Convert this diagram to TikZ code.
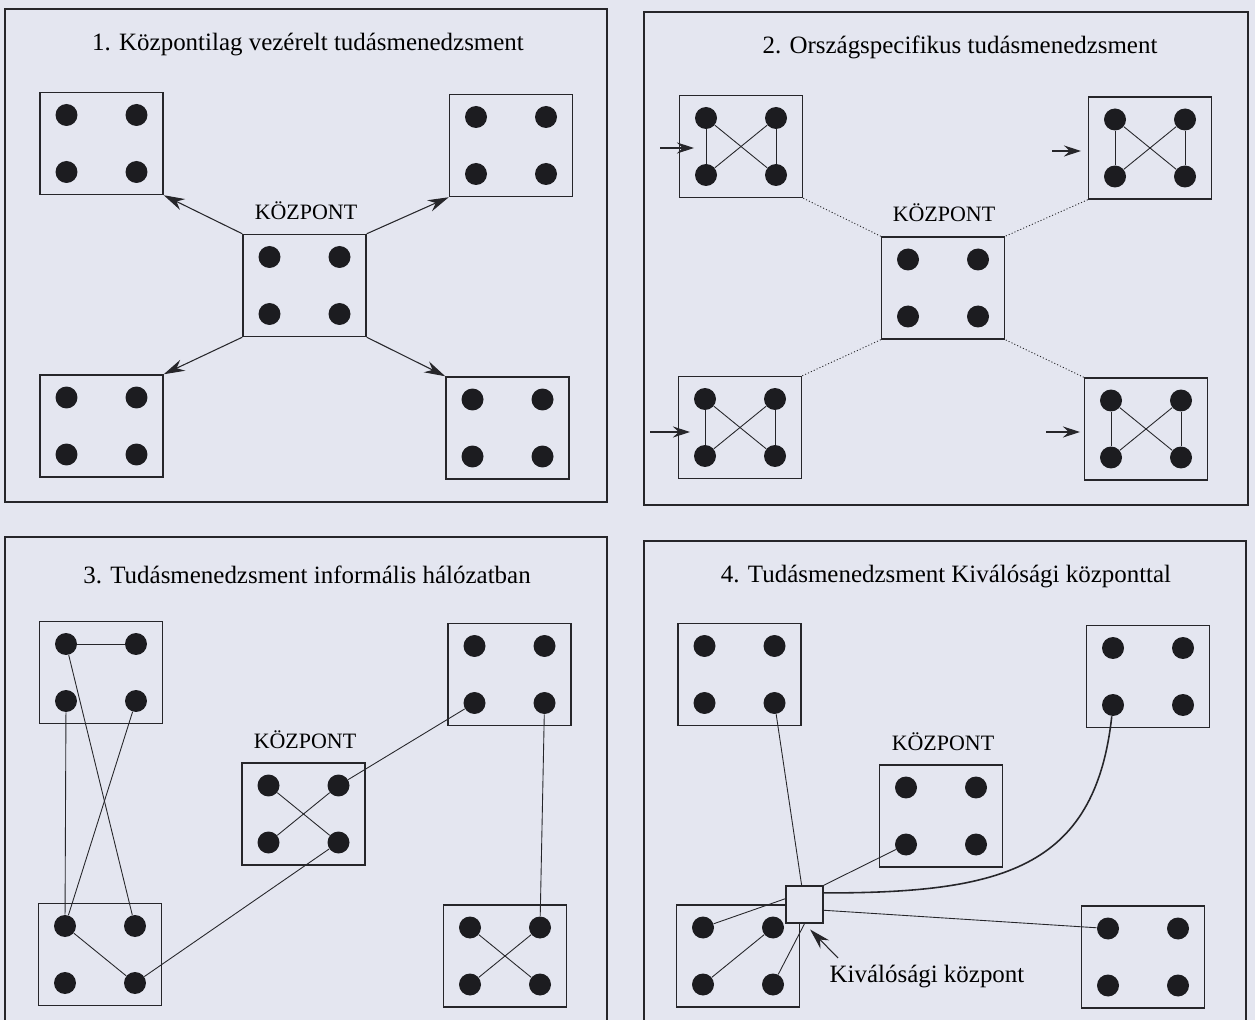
\documentclass[tikz,border=0pt]{standalone}
\usepackage{fontspec}
\setmainfont{Liberation Serif}
\usetikzlibrary{arrows.meta,calc}
\definecolor{bgcol}{RGB}{228,230,240}
\definecolor{ink}{RGB}{38,38,42}
\definecolor{dotcol}{RGB}{28,28,32}
\newcommand{\kbox}[3]{%
  \node[kbox] (#1) at (#2,#3) {};
  \node[kdot] (#1a) at ($(#1)+(-35,-28.5)$) {};
  \node[kdot] (#1b) at ($(#1)+(35,-28.5)$) {};
  \node[kdot] (#1c) at ($(#1)+(-35,28.5)$) {};
  \node[kdot] (#1d) at ($(#1)+(35,28.5)$) {};
}
\begin{document}
\begin{tikzpicture}[x=0.02cm, y=-0.02cm,
  kbox/.style={draw=ink, line width=0.85pt, minimum width=2.46cm, minimum height=2.04cm, inner sep=0pt},
  kdot/.style={circle, fill=dotcol, minimum size=0.44cm, inner sep=0pt},
  frame/.style={draw=ink, line width=0.8pt},
  title/.style={font=\fontsize{14.2}{17}\selectfont, text=black, inner sep=0pt},
  center label/.style={font=\fontsize{12.5}{15}\selectfont, text=black, inner sep=0pt},
  link/.style={draw=ink, line width=0.5pt},
  dotlink/.style={draw=ink, line width=0.5pt, dash pattern=on 0.6pt off 1.2pt},
  bigarr/.style={draw=ink, line width=0.6pt, -{Stealth[length=0.42cm, width=0.24cm]}},
  smallarr/.style={draw=ink, line width=0.6pt, -{Stealth[length=0.34cm, width=0.22cm]}},
  curvelink/.style={draw=ink, line width=0.9pt}
]
\useasboundingbox (0,0) rectangle (1255,1020);
\fill[bgcol] (0,0) rectangle (1255,1020);

% ---------------- frames ----------------
\draw[frame] (5,9) rectangle (607,502);
\draw[frame] (644,12) rectangle (1248,505);
\draw[frame] (5,1030) -- (5,537) -- (607,537) -- (607,1030);
\draw[frame] (644,1030) -- (644,541) -- (1246,541) -- (1246,1030);

% ---------------- panel 1 ----------------
\node[title] (t1) at (308,45) {1. Központilag vezérelt tudásmenedzsment};
\node[center label] (k1) at (306,211) {KÖZPONT};
\kbox{p1tl}{101.5}{143.5}
\kbox{p1tr}{511}{145.5}
\kbox{p1c}{304.5}{285.5}
\kbox{p1bl}{101.5}{426}
\kbox{p1br}{507.5}{428}
\draw[bigarr] (p1c.north west) -- (p1tl.south east);
\draw[bigarr] (p1c.north east) -- (p1tr.south west);
\draw[bigarr] (p1c.south west) -- (p1bl.north east);
\draw[bigarr] (p1c.south east) -- (p1br.north west);

% ---------------- panel 2 ----------------
\node[title] (t2) at (960,47) {2. Országspecifikus tudásmenedzsment};
\node[center label] (k2) at (944,213) {KÖZPONT};
\kbox{p2tl}{741}{146.5}
\kbox{p2tr}{1150}{148}
\kbox{p2c}{943}{288}
\kbox{p2bl}{740}{427.5}
\kbox{p2br}{1146}{429}
\foreach \b in {p2tl,p2tr,p2bl,p2br}{
  \draw[link] (\b a) -- (\b c);
  \draw[link] (\b b) -- (\b d);
  \draw[link] (\b a) -- (\b d);
  \draw[link] (\b b) -- (\b c);
}
\draw[dotlink] (p2tl.south east) -- (p2c.north west);
\draw[dotlink] (p2tr.south west) -- (p2c.north east);
\draw[dotlink] (p2bl.north east) -- (p2c.south west);
\draw[dotlink] (p2br.north west) -- (p2c.south east);
\coordinate (a2tls) at (660,148);  \coordinate (a2tle) at (694,148);
\coordinate (a2trs) at (1052,151); \coordinate (a2tre) at (1081,151);
\coordinate (a2bls) at (650,432);  \coordinate (a2ble) at (690,432);
\coordinate (a2brs) at (1046,432); \coordinate (a2bre) at (1080,432);
\draw[smallarr] (a2tls) -- (a2tle);
\draw[smallarr] (a2trs) -- (a2tre);
\draw[smallarr] (a2bls) -- (a2ble);
\draw[smallarr] (a2brs) -- (a2bre);

% ---------------- panel 3 ----------------
\node[title] (t3) at (307,575) {3. Tudásmenedzsment informális hálózatban};
\node[center label] (k3) at (305,740) {KÖZPONT};
\kbox{p3tl}{101}{672.5}
\kbox{p3tr}{509.5}{674.5}
\kbox{p3c}{303.5}{814}
\kbox{p3bl}{100}{954.5}
\kbox{p3br}{505}{956}
\draw[link] (p3tla) -- (p3tlb);
\draw[link] (p3tla) -- (p3blb);
\draw[link] (p3tld) -- (p3bla);
\draw[link] (p3tlc) -- (p3bla);
\draw[link] (p3bla) -- (p3bld);
\draw[link] (p3bld) -- (p3cd);
\draw[link] (p3ca) -- (p3cd);
\draw[link] (p3cb) -- (p3cc);
\draw[link] (p3cb) -- (p3trc);
\draw[link] (p3trd) -- (p3brb);
\draw[link] (p3bra) -- (p3brd);
\draw[link] (p3brb) -- (p3brc);

% ---------------- panel 4 ----------------
\node[title] (t4) at (946,577) {4. Tudásmenedzsment Kiválósági központtal};
\node[center label] (k4) at (943,742) {KÖZPONT};
\kbox{p4tl}{739.5}{674.5}
\kbox{p4tr}{1148}{676.5}
\kbox{p4c}{941}{816}
\kbox{p4bl}{738}{956}
\kbox{p4br}{1143}{957}
\node[draw=ink, fill=bgcol, line width=0.85pt, minimum size=0.74cm, inner sep=0pt] (kz) at (804.5,904.5) {};
\node[title] (kzlab) at (927,977) {Kiválósági központ};
\draw[link] (p4tld) -- (kz);
\draw[link] (kz.north east) -- (p4cc);
\draw[curvelink] ($(kz.north east)!0.2!(kz.south east)$) .. controls (1000,893) and (1095,870) .. (p4trc);
\draw[link] ($(kz.north east)!0.65!(kz.south east)$) -- (p4bra);
\draw[link] ($(kz.north west)!0.35!(kz.south west)$) -- (p4bla);
\draw[link] (p4blc) -- (p4blb);
\draw[link] (p4bld) -- (kz.south);
\coordinate (kzarr) at (838,958);
\draw[bigarr, shorten >=0.16cm] (kzarr) -- (kz.south);
\end{tikzpicture}
\end{document}
